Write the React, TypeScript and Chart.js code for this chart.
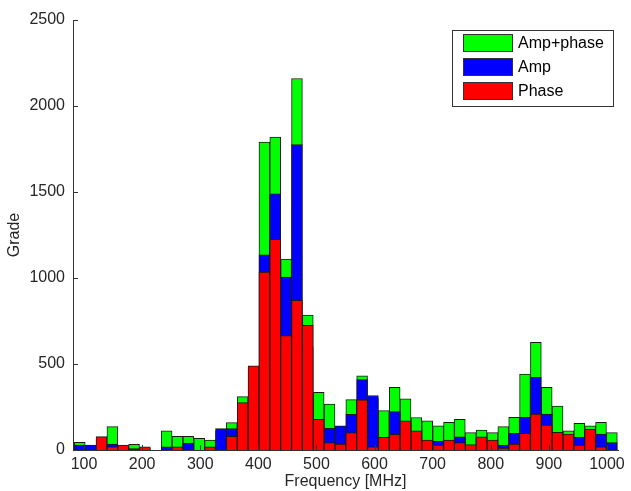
import React, { useEffect, useRef } from "react";
import { Chart, registerables } from "chart.js";

Chart.register(...registerables);

// Bin centres (MHz) of the 50 histogram bins
const binCenters = [
  92.65, 111.34, 130.03, 148.72, 167.41, 186.1, 204.79, 223.48, 242.17, 260.86,
  279.55, 298.24, 316.93, 335.62, 354.31, 373.0, 391.69, 410.38, 429.07, 447.76,
  466.45, 485.14, 503.83, 522.52, 541.21, 559.9, 578.59, 597.28, 615.97, 634.66,
  653.35, 672.04, 690.73, 709.42, 728.11, 746.8, 765.49, 784.18, 802.87, 821.56,
  840.25, 858.94, 877.63, 896.32, 915.01, 933.7, 952.39, 971.08, 989.77, 1008.46,
];

const ampPhase = [
  45, 25, 60, 136, 20, 33, 10, 0, 112, 80,
  80, 68, 58, 110, 159, 310, 470, 1790, 1820, 1110,
  2160, 785, 335, 267, 130, 293, 431, 300, 229, 364,
  297, 189, 169, 141, 161, 178, 101, 116, 101, 136,
  190, 442, 626, 364, 256, 112, 155, 140, 161, 101,
];

const amp = [
  29, 29, 10, 35, 10, 8, 0, 0, 19, 10,
  39, 0, 0, 124, 124, 200, 300, 1135, 1490, 1005,
  1775, 600, 126, 126, 141, 207, 409, 317, 60, 223,
  150, 60, 40, 52, 40, 76, 20, 50, 40, 29,
  97, 190, 422, 209, 90, 80, 74, 100, 93, 43,
];

const phase = [
  0, 0, 78, 19, 29, 0, 19, 0, 0, 19,
  0, 0, 19, 0, 80, 275, 490, 1035, 1225, 665,
  870, 725, 178, 43, 35, 101, 291, 19, 74, 91,
  169, 112, 58, 29, 58, 43, 31, 76, 58, 10,
  35, 97, 209, 145, 103, 93, 29, 120, 19, 0,
];

const seriesLabels = ["Amp+phase", "Amp", "Phase"];
const seriesColors = ["#00ff00", "#0000ff", "#ff0000"];

const xTickValues = [100, 200, 300, 400, 500, 600, 700, 800, 900, 1000];
const yTickValues = [0, 500, 1000, 1500, 2000, 2500];
const xMin = 81;
const xMax = 1019;
const yMin = 0;
const yMax = 2500;

const FONT = "'Liberation Sans', Arial, Helvetica, sans-serif";
const AXIS = "#333333";
const TEXT = "#262626";

const inwardTicks = {
  id: "inwardTicks",
  afterDatasetsDraw(chart: any) {
    const { ctx, chartArea, scales } = chart;
    ctx.save();
    ctx.strokeStyle = AXIS;
    ctx.lineWidth = 1;
    ctx.beginPath();
    scales.y.ticks.forEach((t: any) => {
      const y = Math.round(scales.y.getPixelForValue(t.value)) + 0.5;
      ctx.moveTo(chartArea.left, y);
      ctx.lineTo(chartArea.left + 5, y);
    });
    scales.x.ticks.forEach((t: any) => {
      const x = Math.round(scales.x.getPixelForValue(t.value)) + 0.5;
      ctx.moveTo(x, chartArea.bottom);
      ctx.lineTo(x, chartArea.bottom - 5);
    });
    ctx.stroke();
    ctx.restore();
  },
};

const boxLegend = {
  id: "boxLegend",
  afterDraw(chart: any) {
    const { ctx, chartArea } = chart;
    const w = 161;
    const h = 76;
    const x0 = Math.round(chartArea.right - w - 5);
    const y0 = Math.round(chartArea.top + 10);
    ctx.save();
    ctx.fillStyle = "#ffffff";
    ctx.fillRect(x0, y0, w, h);
    ctx.strokeStyle = AXIS;
    ctx.lineWidth = 1;
    ctx.strokeRect(x0 + 0.5, y0 + 0.5, w, h);
    chart.data.datasets.forEach((ds: any, i: number) => {
      const sy = y0 + 4 + i * 24;
      ctx.fillStyle = ds.backgroundColor;
      ctx.fillRect(x0 + 11, sy, 49, 18);
      ctx.strokeStyle = AXIS;
      ctx.strokeRect(x0 + 11.5, sy + 0.5, 49, 17);
      ctx.fillStyle = "#000000";
      ctx.font = `16px ${FONT}`;
      ctx.textBaseline = "middle";
      ctx.textAlign = "left";
      ctx.fillText(ds.label, x0 + 66, sy + 9.5);
    });
    ctx.restore();
  },
};

export default function App() {
  const canvasRef = useRef<HTMLCanvasElement | null>(null);

  useEffect(() => {
    const canvas = canvasRef.current;
    if (!canvas) return;
    const seriesValues = [ampPhase, amp, phase];
    const datasets = seriesValues.map((vals, s) => ({
      label: seriesLabels[s],
      data: binCenters.map((c, i) => ({ x: c, y: vals[i] })),
      backgroundColor: seriesColors[s],
      borderColor: "#1a1a1a",
      borderWidth: 1,
      borderSkipped: "bottom" as const,
      grouped: false,
      barPercentage: 1,
      categoryPercentage: 1,
      order: 3 - s,
    }));

    const chart = new Chart(canvas, {
      type: "bar",
      data: { datasets },
      options: {
        animation: false,
        responsive: false,
        devicePixelRatio: 1,
        layout: { padding: { top: 20, right: 13, left: 0, bottom: 0 } },
        plugins: {
          legend: { display: false },
          tooltip: { enabled: false },
        },
        scales: {
          x: {
            type: "linear",
            min: xMin,
            max: xMax,
            offset: false,
            grid: { display: false, drawTicks: false, offset: false },
            border: { display: true, color: AXIS, width: 1 },
            afterBuildTicks: (scale: any) => {
              scale.ticks = xTickValues.map((v) => ({ value: v }));
            },
            ticks: {
              color: TEXT,
              font: { family: FONT, size: 16 },
              padding: 5,
              maxRotation: 0,
              autoSkip: false,
              callback: (v: any) => String(v),
            },
            title: {
              display: true,
              text: "Frequency [MHz]",
              color: TEXT,
              font: { family: FONT, size: 16 },
              padding: { top: 0, bottom: 0 },
            },
            afterFit: (scale: any) => {
              scale.height = 41;
            },
          },
          y: {
            type: "linear",
            min: yMin,
            max: yMax,
            grid: { display: false, drawTicks: false },
            border: { display: true, color: AXIS, width: 1 },
            afterBuildTicks: (scale: any) => {
              scale.ticks = yTickValues.map((v) => ({ value: v }));
            },
            ticks: {
              color: TEXT,
              font: { family: FONT, size: 16 },
              padding: 8,
              callback: (v: any) => String(v),
            },
            title: {
              display: true,
              text: "Grade",
              color: TEXT,
              font: { family: FONT, size: 16 },
              padding: { top: 5, bottom: 0 },
            },
            afterFit: (scale: any) => {
              scale.width = 73;
            },
          },
        },
      },
      plugins: [inwardTicks, boxLegend],
    });
    return () => chart.destroy();
  }, []);

  return (
    <div
      style={{
        position: "fixed",
        top: 0,
        left: 0,
        width: 631,
        height: 491,
        background: "#ffffff",
      }}
    >
      <canvas
        ref={canvasRef}
        width={631}
        height={491}
        style={{ display: "block", width: 631, height: 491 }}
      />
    </div>
  );
}
